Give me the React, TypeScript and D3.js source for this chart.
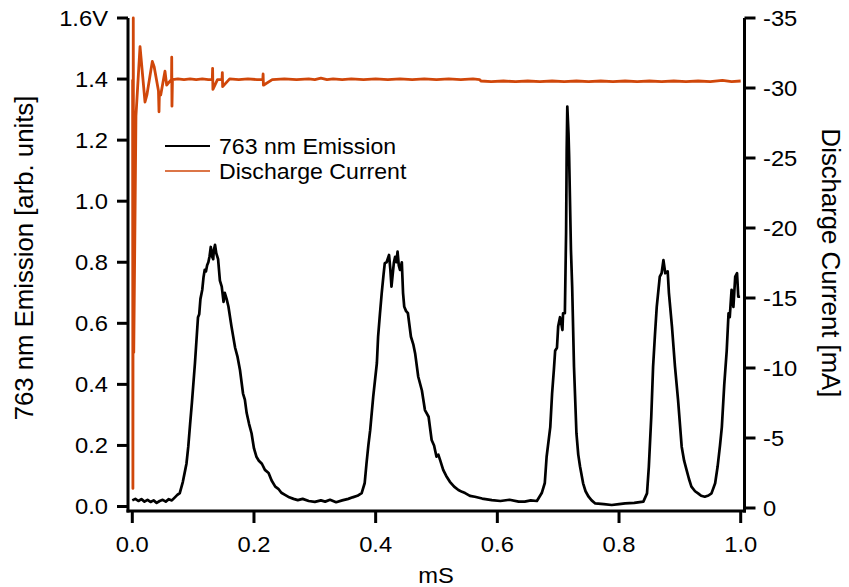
import React from "react";
import * as d3 from "d3";

// ---- data ----
const emissionTime = [
  0.000, 0.005, 0.010, 0.015, 0.020, 0.025, 0.030, 0.035, 0.040, 0.045, 0.050, 0.055, 0.060, 0.065, 0.070, 0.074, 0.078, 0.083, 0.087, 0.089,
  0.092, 0.095, 0.098, 0.103, 0.106, 0.108, 0.110, 0.112, 0.115, 0.117, 0.119, 0.121, 0.123, 0.125, 0.127, 0.129, 0.131, 0.133, 0.134, 0.136,
  0.138, 0.141, 0.144, 0.147, 0.150, 0.152, 0.155, 0.158, 0.163, 0.169, 0.173, 0.177, 0.182, 0.185, 0.188, 0.192, 0.196, 0.200, 0.204, 0.208,
  0.213, 0.218, 0.224, 0.229, 0.235, 0.240, 0.245, 0.251, 0.258, 0.265, 0.272, 0.280, 0.290, 0.300, 0.310, 0.317, 0.325, 0.335, 0.345, 0.355,
  0.362, 0.370, 0.377, 0.382, 0.385, 0.388, 0.391, 0.396, 0.402, 0.404, 0.407, 0.410, 0.413, 0.415, 0.418, 0.422, 0.424, 0.426, 0.428, 0.430,
  0.432, 0.434, 0.436, 0.438, 0.440, 0.443, 0.445, 0.447, 0.450, 0.453, 0.458, 0.462, 0.465, 0.470, 0.476, 0.481, 0.487, 0.492, 0.496, 0.500,
  0.503, 0.506, 0.511, 0.516, 0.522, 0.529, 0.536, 0.542, 0.547, 0.555, 0.563, 0.575, 0.591, 0.605, 0.620, 0.635, 0.645, 0.655, 0.665, 0.673,
  0.678, 0.681, 0.687, 0.690, 0.693, 0.695, 0.698, 0.700, 0.703, 0.705, 0.707, 0.708, 0.711, 0.713, 0.714, 0.715, 0.717, 0.718, 0.721, 0.723,
  0.726, 0.730, 0.733, 0.736, 0.741, 0.745, 0.750, 0.755, 0.761, 0.775, 0.788, 0.800, 0.810, 0.825, 0.840, 0.846, 0.849, 0.853, 0.856, 0.859,
  0.862, 0.867, 0.870, 0.873, 0.876, 0.880, 0.882, 0.887, 0.892, 0.897, 0.903, 0.907, 0.911, 0.915, 0.919, 0.925, 0.930, 0.935, 0.941, 0.947,
  0.952, 0.958, 0.962, 0.966, 0.969, 0.973, 0.977, 0.980, 0.982, 0.985, 0.988, 0.991, 0.994, 0.996, 0.999,
];
const emissionValue = [
  0.020, 0.025, 0.018, 0.024, 0.016, 0.022, 0.015, 0.020, 0.012, 0.018, 0.022, 0.016, 0.024, 0.020, 0.030, 0.038, 0.044, 0.080, 0.120, 0.140,
  0.196, 0.270, 0.340, 0.470, 0.560, 0.620, 0.630, 0.680, 0.710, 0.750, 0.775, 0.770, 0.790, 0.800, 0.820, 0.850, 0.820, 0.810, 0.840, 0.857,
  0.830, 0.810, 0.740, 0.720, 0.670, 0.700, 0.680, 0.655, 0.590, 0.520, 0.490, 0.447, 0.370, 0.350, 0.306, 0.270, 0.240, 0.190, 0.163, 0.150,
  0.140, 0.120, 0.110, 0.085, 0.065, 0.058, 0.045, 0.038, 0.030, 0.025, 0.021, 0.025, 0.018, 0.015, 0.020, 0.016, 0.022, 0.014, 0.020, 0.025,
  0.030, 0.035, 0.044, 0.077, 0.142, 0.200, 0.250, 0.360, 0.470, 0.556, 0.630, 0.700, 0.760, 0.797, 0.800, 0.824, 0.780, 0.720, 0.760, 0.800,
  0.818, 0.800, 0.835, 0.790, 0.775, 0.800, 0.700, 0.654, 0.640, 0.633, 0.556, 0.530, 0.500, 0.425, 0.380, 0.316, 0.294, 0.218, 0.200, 0.163,
  0.170, 0.152, 0.120, 0.100, 0.081, 0.065, 0.054, 0.048, 0.044, 0.035, 0.032, 0.026, 0.021, 0.018, 0.022, 0.016, 0.016, 0.020, 0.018, 0.044,
  0.077, 0.163, 0.260, 0.370, 0.450, 0.510, 0.520, 0.590, 0.620, 0.600, 0.578, 0.633, 0.633, 0.896, 1.168, 1.310, 1.220, 1.146, 0.840, 0.720,
  0.458, 0.240, 0.170, 0.130, 0.076, 0.050, 0.032, 0.020, 0.010, 0.008, 0.005, 0.008, 0.010, 0.012, 0.016, 0.043, 0.130, 0.294, 0.458, 0.560,
  0.654, 0.753, 0.764, 0.807, 0.764, 0.770, 0.700, 0.590, 0.458, 0.350, 0.196, 0.150, 0.120, 0.090, 0.065, 0.050, 0.043, 0.035, 0.032, 0.036,
  0.043, 0.076, 0.130, 0.200, 0.260, 0.400, 0.510, 0.633, 0.620, 0.710, 0.654, 0.753, 0.764, 0.687, 0.687,
];

const currentTime = [
  0.000, 0.0005, 0.0010, 0.0016, 0.0024, 0.0060, 0.0127, 0.0209, 0.0240, 0.0329, 0.0360, 0.0430, 0.0439, 0.0445, 0.0467, 0.0537, 0.0565, 0.0600,
  0.0645, 0.0648, 0.0652, 0.0660, 0.075, 0.085, 0.095, 0.105, 0.115, 0.125, 0.1315, 0.132, 0.1325, 0.140, 0.1475, 0.148, 0.1485, 0.160, 0.175,
  0.190, 0.205, 0.2145, 0.215, 0.2155, 0.230, 0.250, 0.270, 0.290, 0.300, 0.310, 0.320, 0.330, 0.345, 0.360, 0.380, 0.400, 0.420, 0.440, 0.460,
  0.480, 0.500, 0.520, 0.540, 0.560, 0.571, 0.573, 0.590, 0.610, 0.630, 0.650, 0.670, 0.690, 0.710, 0.730, 0.750, 0.770, 0.790, 0.810, 0.830,
  0.850, 0.870, 0.890, 0.910, 0.930, 0.950, 0.970, 0.985, 1.000,
];
const currentValue = [
  -30.6, -30.6, -1.4, -35.0, -11.1, -28.0, -32.95, -29.0, -29.5, -31.9, -31.5, -29.8, -28.3, -29.6, -29.5, -31.2, -30.2, -30.4,
  -30.6, -32.2, -28.7, -30.6, -30.65, -30.6, -30.65, -30.6, -30.65, -30.6, -30.6, -31.4, -29.9, -30.6, -30.6, -31.1, -30.1, -30.65, -30.6,
  -30.65, -30.6, -30.6, -31.0, -30.2, -30.6, -30.65, -30.6, -30.65, -30.6, -30.7, -30.6, -30.65, -30.6, -30.65, -30.6, -30.65, -30.6, -30.65, -30.6,
  -30.65, -30.6, -30.65, -30.6, -30.65, -30.6, -30.5, -30.45, -30.5, -30.45, -30.5, -30.45, -30.5, -30.45, -30.5, -30.45, -30.5, -30.45, -30.5, -30.45,
  -30.5, -30.45, -30.5, -30.45, -30.5, -30.45, -30.55, -30.45, -30.5,
];

const xTicks = [0, 0.2, 0.4, 0.6, 0.8, 1.0];
const xTickLabels = ["0.0", "0.2", "0.4", "0.6", "0.8", "1.0"];
const leftTicks = [0, 0.2, 0.4, 0.6, 0.8, 1.0, 1.2, 1.4, 1.6];
const leftTickLabels = ["0.0", "0.2", "0.4", "0.6", "0.8", "1.0", "1.2", "1.4", "1.6V"];
const rightTicks = [0, -5, -10, -15, -20, -25, -30, -35];
const rightTickLabels = ["0", "-5", "-10", "-15", "-20", "-25", "-30", "-35"];
const seriesNames = ["763 nm Emission", "Discharge Current"];

const ORANGE = "#d0470a";
const FONT = "'Liberation Sans', Arial, Helvetica, sans-serif";

function T({ x, y, children, anchor = "start", size = 22, sx = 1.08, rot = 0, fill = "#000" }: any) {
  return (
    <text
      transform={`translate(${x},${y}) rotate(${rot}) scale(${sx},1)`}
      textAnchor={anchor}
      fontSize={size}
      fontFamily={FONT}
      fill={fill}
    >
      {children}
    </text>
  );
}

export default function App() {
  const x = d3.scaleLinear().domain([0, 1]).range([132.3, 740.7]);
  const yL = d3.scaleLinear().domain([0, 1.6]).range([506.5, 18]);
  const yR = d3.scaleLinear().domain([0, -35]).range([508, 18]);

  const emission = emissionTime.map((t, i) => [t, emissionValue[i]] as [number, number]);
  const current = currentTime.map((t, i) => [t, currentValue[i]] as [number, number]);

  const lineE = d3.line<[number, number]>().x((d) => x(d[0])).y((d) => yL(d[1]));
  const lineC = d3.line<[number, number]>().x((d) => x(d[0])).y((d) => yR(d[1]));

  const axisLeftX = 128;
  const axisRightX = 744.5;
  const axisBottomY = 511;
  const capHalf = 7.9;

  return (
    <svg width={849} height={587} style={{ position: "absolute", left: 0, top: 0, background: "#fff" }}>
      {/* series */}
      <path d={lineE(emission) || ""} fill="none" stroke="#000" strokeWidth={2.7} strokeLinejoin="round" />
      <path d={lineC(current) || ""} fill="none" stroke={ORANGE} strokeWidth={2.8} strokeLinejoin="round" />

      {/* left axis */}
      <line x1={axisLeftX} x2={axisLeftX} y1={yL(1.6)} y2={axisBottomY + 1.5} stroke="#000" strokeWidth={3} />
      {leftTicks.map((v, i) => (
        <g key={"l" + i}>
          <line x1={axisLeftX - 11} x2={axisLeftX} y1={yL(v)} y2={yL(v)} stroke="#000" strokeWidth={3} />
          <T x={108} y={yL(v) + capHalf} anchor="end">{leftTickLabels[i]}</T>
        </g>
      ))}

      {/* bottom axis */}
      <line x1={axisLeftX - 1.5} x2={axisRightX + 1.5} y1={axisBottomY} y2={axisBottomY} stroke="#000" strokeWidth={3} />
      {xTicks.map((v, i) => (
        <g key={"b" + i}>
          <line x1={x(v)} x2={x(v)} y1={axisBottomY} y2={axisBottomY + 12} stroke="#000" strokeWidth={3} />
          <T x={x(v)} y={552} anchor="middle">{xTickLabels[i]}</T>
        </g>
      ))}
      <T x={436} y={583} anchor="middle">mS</T>

      {/* right axis */}
      <line x1={axisRightX} x2={axisRightX} y1={yR(-35)} y2={axisBottomY + 1.5} stroke="#000" strokeWidth={3} />
      {rightTicks.map((v, i) => (
        <g key={"r" + i}>
          <line x1={axisRightX} x2={axisRightX + 11} y1={yR(v)} y2={yR(v)} stroke="#000" strokeWidth={3} />
          <T x={763} y={yR(v) + capHalf} anchor="start">{rightTickLabels[i]}</T>
        </g>
      ))}

      {/* axis titles */}
      <T x={33} y={258} anchor="middle" rot={-90} size={25} sx={1.03}>763 nm Emission [arb. units]</T>
      <T x={822} y={263} anchor="middle" rot={90} size={25} sx={1.03}>Discharge Current [mA]</T>

      {/* legend */}
      <line x1={165} x2={210} y1={146} y2={146} stroke="#000" strokeWidth={1.8} />
      <T x={219} y={146 + capHalf} sx={1.05}>{seriesNames[0]}</T>
      <line x1={165} x2={210} y1={171} y2={171} stroke={ORANGE} strokeWidth={1.3} />
      <T x={219} y={171 + capHalf} sx={1.05}>{seriesNames[1]}</T>
    </svg>
  );
}
